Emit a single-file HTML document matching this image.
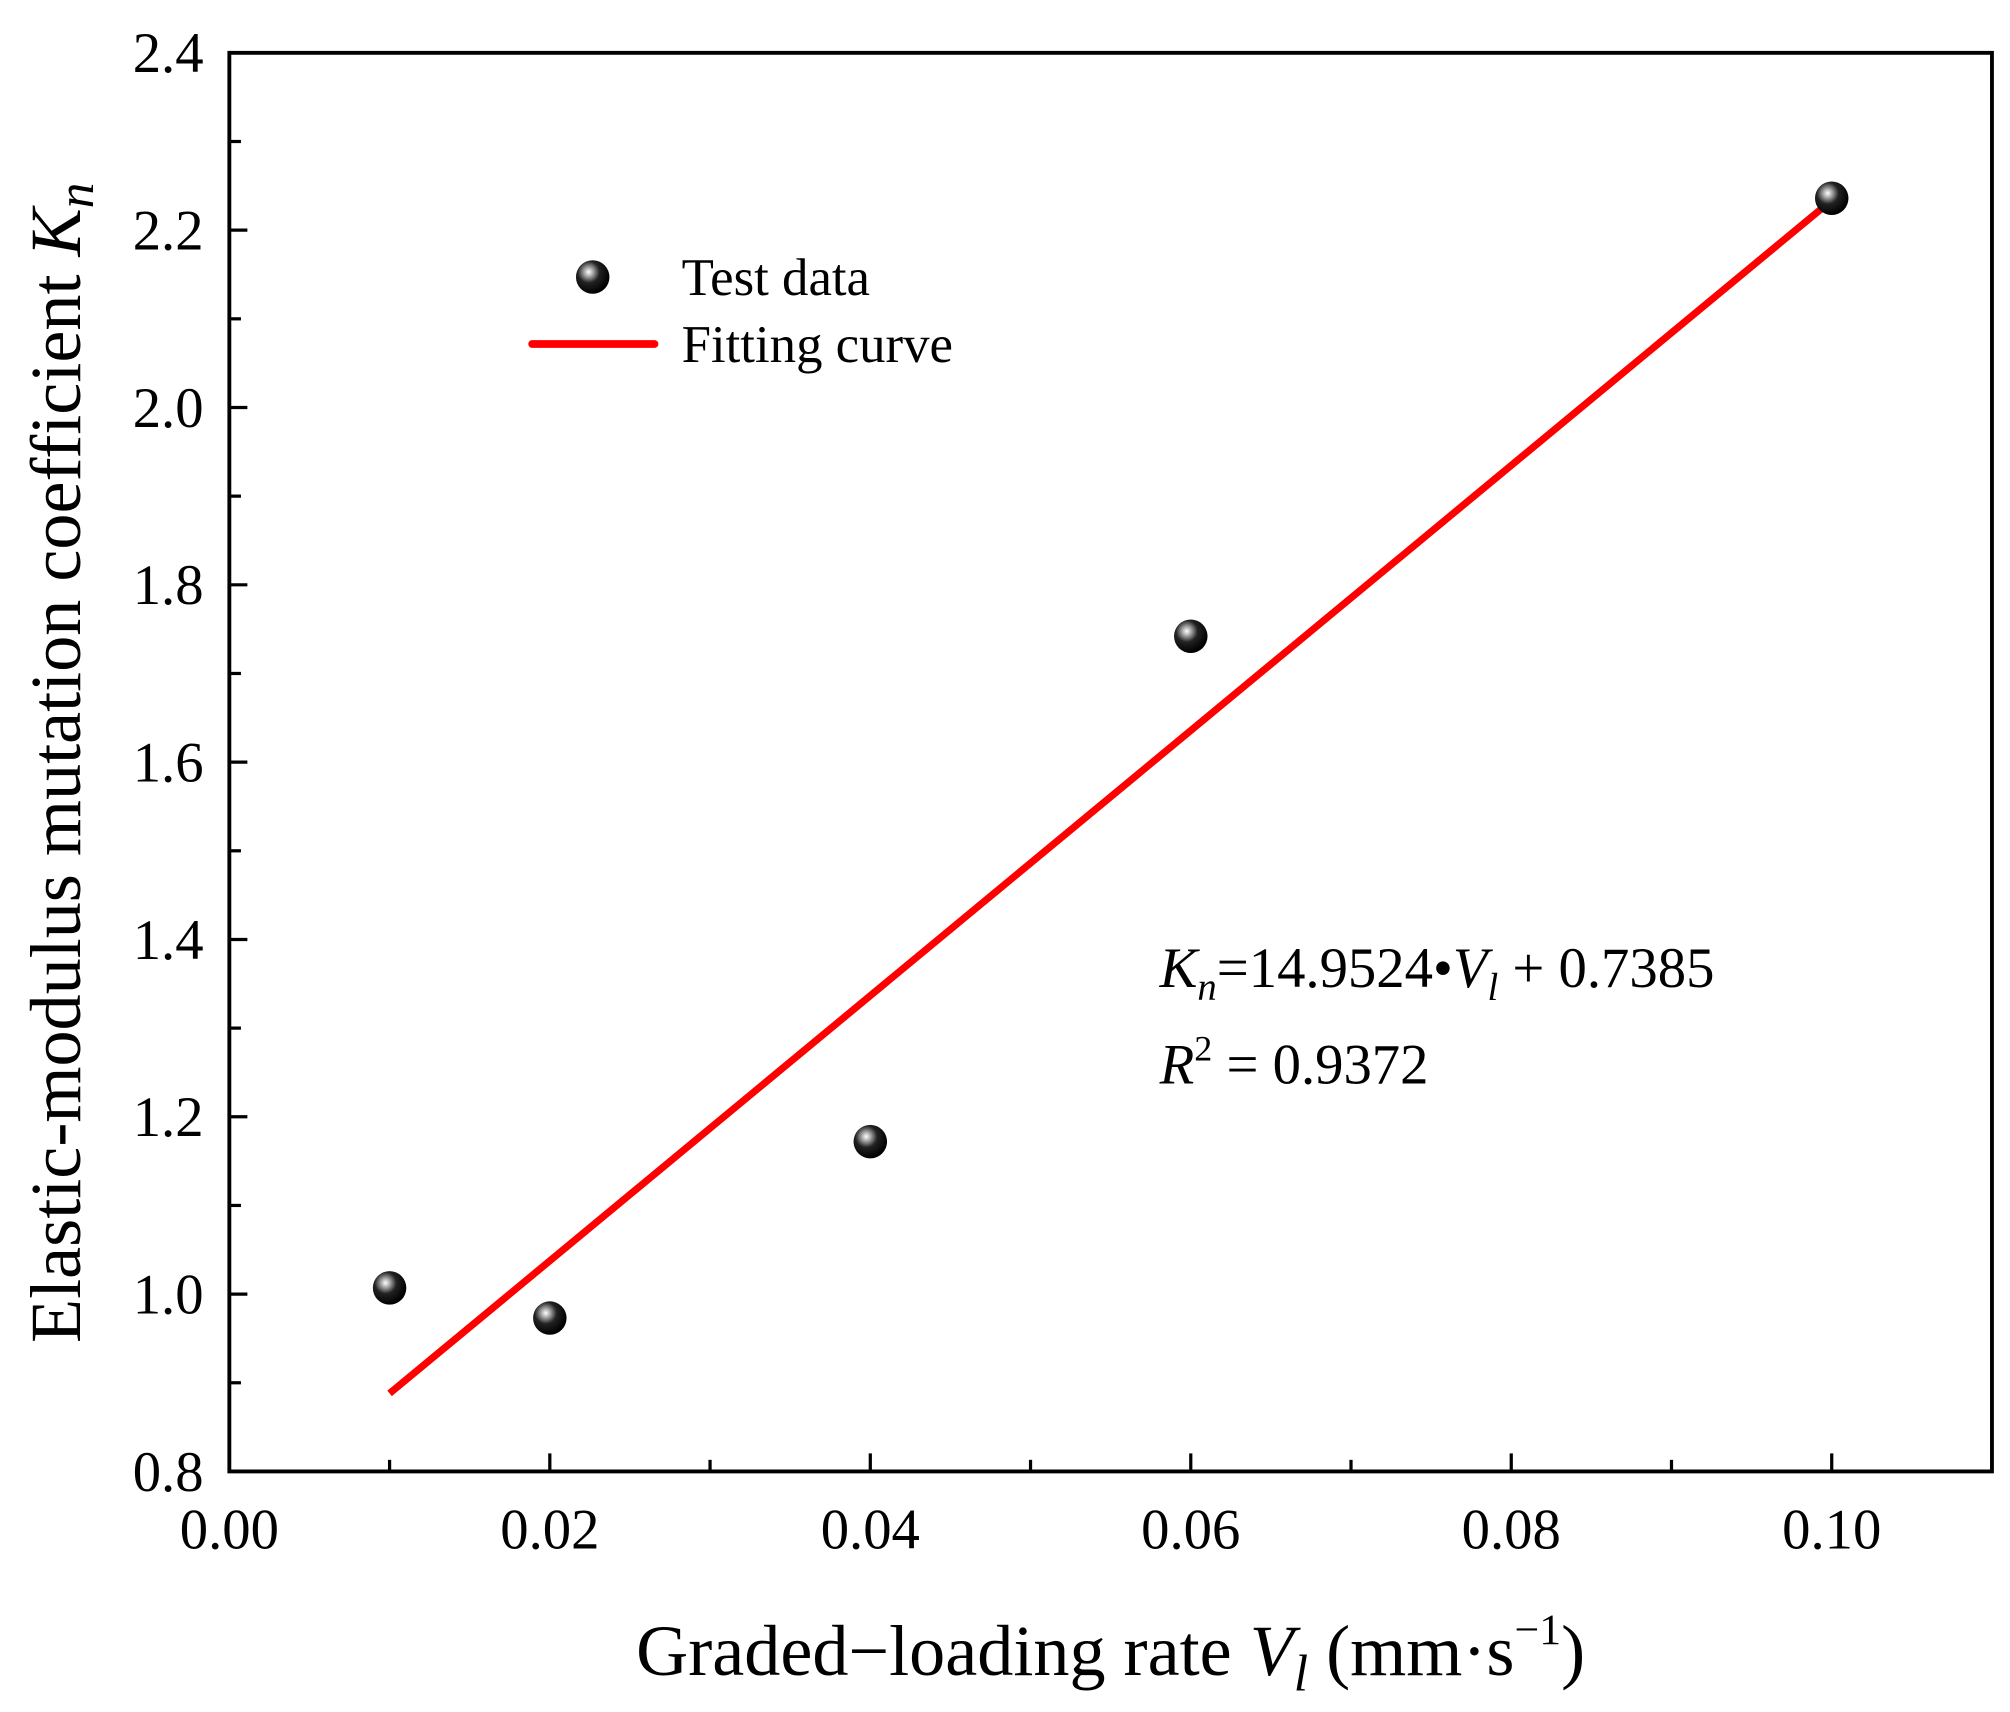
<!DOCTYPE html>
<html><head><meta charset="utf-8"><style>
html,body{margin:0;padding:0;background:#fff;}
svg{display:block;font-family:"Liberation Serif",serif;}
</style></head><body>
<svg id="chart" width="2010" height="1712" viewBox="0 0 1560 1328.7" xmlns="http://www.w3.org/2000/svg">
<defs>
<radialGradient id="ball" cx="0.38" cy="0.35" r="0.65">
<stop offset="0" stop-color="#fff"/><stop offset="0.2" stop-color="#aaa"/><stop offset="0.5" stop-color="#222"/><stop offset="1" stop-color="#000"/>
</radialGradient>
</defs>
<g id="axes"></g>
<g id="marks"></g>
<g>
<circle cx="460" cy="215" r="13" fill="url(#ball)"/>
<text x="529" y="229" font-size="41">Test data</text>
<line x1="413" y1="267" x2="508" y2="267" stroke="#f00" stroke-width="6" stroke-linecap="round"/>
<text x="529" y="281" font-size="41">Fitting curve</text>
</g>
<text x="900" y="766" font-size="44"><tspan font-style="italic">K</tspan><tspan font-style="italic" font-size="30" dy="10">n</tspan><tspan dy="-10">=14.9524•</tspan><tspan font-style="italic">V</tspan><tspan font-style="italic" font-size="30" dy="10">l</tspan><tspan dy="-10"> + 0.7385</tspan></text>
<text x="900" y="841" font-size="44"><tspan font-style="italic">R</tspan><tspan font-size="28" dy="-18">2</tspan><tspan dy="18"> = 0.9372</tspan></text>
<text x="862" y="1300" font-size="56" text-anchor="middle">Graded−loading rate <tspan font-style="italic">V</tspan><tspan font-style="italic" font-size="40" dy="12">l</tspan><tspan dy="-12"> (mm·s</tspan><tspan font-size="34" dy="-24">−1</tspan><tspan dy="24">)</tspan></text>
<text transform="translate(62,592) rotate(-90)" font-size="56" text-anchor="middle">Elastic-modulus mutation coefficient <tspan font-style="italic">K</tspan><tspan font-style="italic" font-size="40" dy="10">n</tspan></text>
</svg>
<script>
const xTicks = [0, 0.02, 0.04, 0.06, 0.08, 0.10];
const xTickLabels = ["0.00","0.02","0.04","0.06","0.08","0.10"];
const yTicks = [0.8, 1.0, 1.2, 1.4, 1.6, 1.8, 2.0, 2.2, 2.4];
const yTickLabels = ["0.8","1.0","1.2","1.4","1.6","1.8","2.0","2.2","2.4"];
const rates = [0.01, 0.02, 0.04, 0.06, 0.10];
const knValues = [1.007, 0.973, 1.172, 1.742, 2.236];
const fitSlope = 14.9524;
const fitIntercept = 0.7385;
const fitRange = [0.01, 0.10];

const L=178, R=1546, T=41, B=1142;
const xMin=0, xMax=0.11, yMin=0.8, yMax=2.4;
const sx = v => L + (v - xMin) / (xMax - xMin) * (R - L);
const sy = v => B - (v - yMin) / (yMax - yMin) * (B - T);
const NS="http://www.w3.org/2000/svg";
const axes=document.getElementById('axes'), marks=document.getElementById('marks');
function mk(tag, attrs, parent){const e=document.createElementNS(NS,tag);for(const k in attrs)e.setAttribute(k,attrs[k]);parent.appendChild(e);return e;}

const frame=mk('rect',{x:L,y:T,width:R-L,height:B-T,fill:'none',stroke:'#000','stroke-width':3},axes);



for(let i=0;i<xTicks.length;i++){
  const x=sx(xTicks[i]);
  const t=mk('line',{x1:x,y1:B,x2:x,y2:B-14,stroke:'#000','stroke-width':2.5},axes);
  
  
  const lb=mk('text',{x:x,y:B+60,'font-size':44,'text-anchor':'middle'},axes);
  lb.textContent=xTickLabels[i];
  
  
  if(i<xTicks.length-1){
    const mx=sx((xTicks[i]+xTicks[i+1])/2);
    const m=mk('line',{x1:mx,y1:B,x2:mx,y2:B-9,stroke:'#000','stroke-width':2.5},axes);
    
    
  }
}
for(let i=0;i<yTicks.length;i++){
  const y=sy(yTicks[i]);
  const t=mk('line',{x1:L,y1:y,x2:L+14,y2:y,stroke:'#000','stroke-width':2.5},axes);
  
  
  const lb=mk('text',{x:L-20,y:y+15,'font-size':44,'text-anchor':'end'},axes);
  lb.textContent=yTickLabels[i];
  
  
  if(i<yTicks.length-1){
    const my=sy((yTicks[i]+yTicks[i+1])/2);
    const m=mk('line',{x1:L,y1:my,x2:L+9,y2:my,stroke:'#000','stroke-width':2.5},axes);
    
    
  }
}
const fl=mk('line',{x1:sx(fitRange[0]),y1:sy(fitSlope*fitRange[0]+fitIntercept),x2:sx(fitRange[1]),y2:sy(fitSlope*fitRange[1]+fitIntercept),stroke:'#f00','stroke-width':5.5},marks);


for(let i=0;i<rates.length;i++){
  const c=mk('circle',{cx:sx(rates[i]),cy:sy(knValues[i]),r:13,fill:'url(#ball)'},marks);
  
  
}
</script>
</body></html>
